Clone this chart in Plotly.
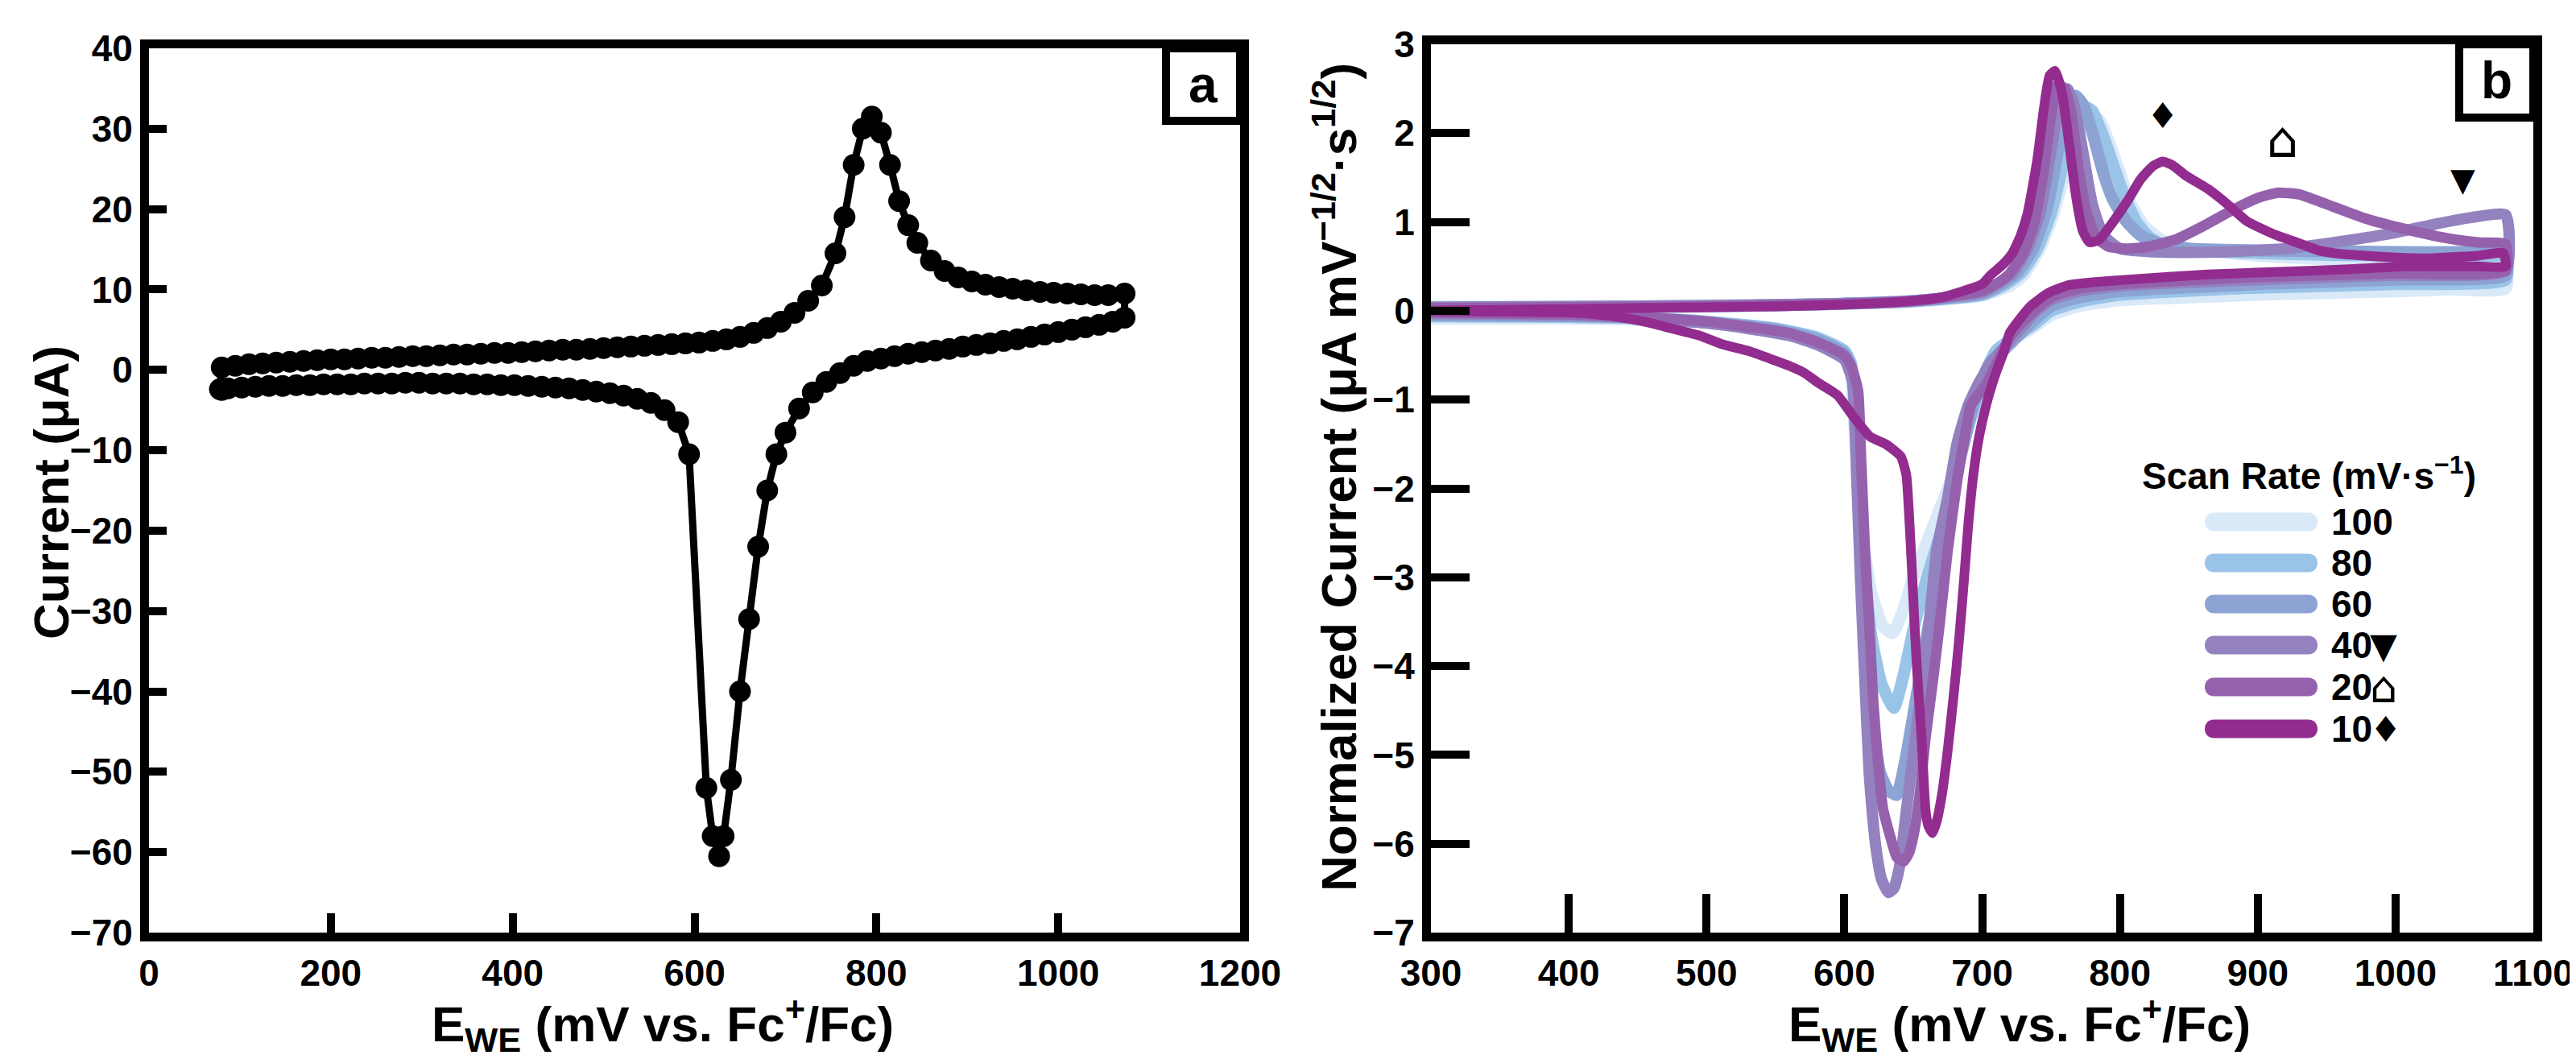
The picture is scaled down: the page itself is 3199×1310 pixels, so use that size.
import plotly.graph_objects as go

W, H = 3199, 1310

# ---------------- Panel a data (mV, uA) ----------------
E_a_fwd = [78, 80, 95, 110, 125, 140, 155, 170, 185, 200, 215, 230, 245, 260, 275, 290, 305, 320, 335, 350,
           365, 380, 395, 410, 425, 440, 455, 470, 485, 500, 515, 530, 545, 560, 575, 590, 605, 620, 635,
           650, 665, 680, 695, 710, 725, 740, 755, 765, 775, 785, 795, 805, 815, 825, 835, 845, 860, 875,
           890, 905, 920, 935, 950, 965, 980, 995, 1010, 1025, 1040, 1055, 1073]
I_a_fwd = [-2.4, 0.3, 0.5, 0.7, 0.8, 0.9, 1.0, 1.1, 1.2, 1.3, 1.3, 1.4, 1.5, 1.5, 1.6, 1.7, 1.7, 1.8, 1.9, 1.9,
           2.0, 2.1, 2.1, 2.2, 2.3, 2.4, 2.5, 2.5, 2.6, 2.7, 2.8, 2.9, 3.0, 3.1, 3.2, 3.3, 3.4, 3.6, 3.8,
           4.1, 4.6, 5.2, 6.0, 7.1, 8.6, 10.5, 14.5, 19.0, 25.5, 30.0, 31.5, 29.5, 25.5, 21.0, 18.0, 15.8, 13.6, 12.3,
           11.5, 11.0, 10.6, 10.3, 10.1, 9.9, 9.7, 9.6, 9.5, 9.4, 9.3, 9.3, 9.5]
E_a_rev = [1073, 1060, 1045, 1030, 1015, 1000, 985, 970, 955, 940, 925, 910, 895, 880, 865, 850, 835, 820,
           805, 790, 775, 760, 745, 730, 715, 700, 690, 680, 670, 660, 650, 640, 632, 627, 620, 613, 594,
           582, 567, 552, 537, 522, 507, 492, 477, 462, 447, 432, 417, 402, 387, 372, 357, 342, 327, 312,
           297, 282, 267, 252, 237, 222, 207, 192, 177, 162, 147, 132, 117, 102, 87, 80]
I_a_rev = [6.5, 6.0, 5.6, 5.3, 5.0, 4.7, 4.4, 4.1, 3.8, 3.6, 3.3, 3.1, 2.9, 2.6, 2.4, 2.2, 2.0, 1.7,
           1.4, 1.1, 0.5, -0.4, -1.5, -2.8, -4.8, -7.8, -10.5, -15.0, -22.0, -31.0, -40.0, -51.0, -58.0, -60.5, -58.0, -52.0, -10.5,
           -6.5, -5.0, -4.1, -3.6, -3.2, -2.9, -2.7, -2.5, -2.3, -2.2, -2.1, -2.0, -1.9, -1.9, -1.8, -1.8, -1.7, -1.7, -1.7,
           -1.6, -1.6, -1.7, -1.7, -1.7, -1.8, -1.8, -1.8, -1.9, -1.9, -2.0, -2.0, -2.1, -2.2, -2.3, -2.5]

# ---------------- Panel b data (mV, normalized current) ----------------
scan_rates = ["100", "80", "60", "40", "20", "10"]
legend_nums = ["100", "80", "60", "40", "20", "10"]
legend_syms = ["", "", "", "\u25BC", "\u2302", "\u2666"]
colors = ["#d9e9f8", "#9ac3e8", "#8ca3d4", "#9382bf", "#9561ad", "#932c8f"]

E_100 = [290, 350, 400, 450, 500, 550, 600, 650, 700, 720, 730, 742, 752, 761, 770, 778, 785, 792, 800, 808,
         818, 830, 850, 900, 950, 1000, 1040, 1080,
         1080, 1040, 1000, 950, 900, 850, 800, 770, 750, 738, 725, 712, 700, 690, 680, 670, 660, 650, 642,
         635, 628, 620, 613, 608, 604, 600, 580, 550, 500, 450, 400, 350, 290]
I_100 = [0.05, 0.05, 0.05, 0.05, 0.06, 0.06, 0.08, 0.10, 0.17, 0.28, 0.40, 0.70, 1.10, 1.60, 2.00, 2.20, 2.15, 1.90, 1.55, 1.20,
         0.95, 0.80, 0.70, 0.62, 0.58, 0.56, 0.55, 0.55,
         0.25, 0.24, 0.22, 0.20, 0.18, 0.15, 0.12, 0.05, -0.05, -0.18, -0.30, -0.45, -0.85, -1.30, -1.80, -2.20, -2.60, -3.00, -3.40,
         -3.63, -3.55, -3.20, -2.50, -1.50, -0.60, -0.45, -0.30, -0.20, -0.13, -0.10, -0.09, -0.09, -0.09]

E_80 = [290, 400, 500, 600, 650, 700, 715, 728, 740, 750, 758, 766, 774, 780, 787, 795, 803, 812, 822, 835,
        860, 900, 950, 1000, 1040, 1080,
        1080, 1000, 900, 800, 770, 750, 738, 725, 710, 700, 690, 680, 670, 660, 650, 643, 636, 627, 620,
        615, 610, 605, 600, 580, 550, 500, 450, 400, 290]
I_80 = [0.04, 0.04, 0.05, 0.08, 0.11, 0.18, 0.28, 0.42, 0.70, 1.10, 1.60, 2.10, 2.30, 2.25, 2.00, 1.65, 1.30, 1.00, 0.82, 0.72,
        0.68, 0.65, 0.63, 0.62, 0.61, 0.60,
        0.35, 0.30, 0.26, 0.18, 0.10, 0.00, -0.15, -0.28, -0.45, -0.80, -1.30, -1.90, -2.50, -3.00, -3.60, -4.10, -4.47, -4.20, -3.70,
        -3.00, -2.00, -0.60, -0.45, -0.30, -0.20, -0.12, -0.08, -0.07, -0.06]

E_60 = [290, 400, 500, 600, 650, 700, 712, 725, 737, 747, 755, 762, 768, 774, 781, 788, 795, 805, 815, 830,
        850, 900, 950, 1000, 1050, 1080,
        1080, 1000, 900, 800, 770, 750, 738, 725, 712, 705, 695, 685, 675, 665, 655, 645, 638, 632, 626,
        620, 615, 610, 606, 600, 580, 550, 500, 450, 400, 290]
I_60 = [0.03, 0.04, 0.05, 0.08, 0.11, 0.19, 0.28, 0.42, 0.70, 1.15, 1.80, 2.30, 2.42, 2.30, 1.95, 1.55, 1.25, 1.00, 0.85, 0.75,
        0.70, 0.68, 0.67, 0.66, 0.66, 0.66,
        0.40, 0.35, 0.30, 0.22, 0.15, 0.05, -0.10, -0.30, -0.50, -0.60, -1.00, -1.60, -2.40, -3.20, -4.10, -5.00, -5.45, -5.40, -5.20,
        -4.60, -3.60, -2.00, -0.70, -0.48, -0.32, -0.21, -0.13, -0.08, -0.06, -0.05]

E_40 = [290, 400, 500, 600, 650, 700, 711, 722, 733, 742, 750, 757, 762, 767, 773, 780, 788, 800, 830, 870,
        920, 960, 1000, 1030, 1055, 1080,
        1080, 1000, 900, 800, 770, 750, 738, 728, 718, 708, 698, 690, 682, 675, 667, 661, 655, 650, 645,
        640, 636, 632, 627, 623, 620, 618, 615, 612, 609, 606, 600, 580, 560, 530, 500, 450, 400, 290]
I_40 = [0.04, 0.05, 0.06, 0.08, 0.11, 0.21, 0.30, 0.42, 0.70, 1.10, 1.80, 2.40, 2.50, 2.30, 1.80, 1.20, 0.85, 0.70, 0.66, 0.66,
        0.70, 0.78, 0.88, 0.98, 1.05, 1.08,
        0.45, 0.40, 0.35, 0.28, 0.22, 0.12, -0.02, -0.20, -0.38, -0.55, -0.80, -1.06, -1.48, -2.10, -2.70, -3.60, -4.38, -5.00, -5.63,
        -6.26, -6.50, -6.55, -6.40, -6.05, -5.60, -5.20, -4.20, -3.13, -1.90, -0.80, -0.55, -0.38, -0.28, -0.20, -0.14, -0.08, -0.05, -0.03]

E_20 = [290, 400, 500, 600, 650, 700, 712, 720, 730, 738, 745, 750, 755, 760, 765, 770, 776, 783, 792, 805,
        820, 840, 860, 880, 900, 915, 930, 950, 978, 1007, 1036, 1060, 1080,
        1080, 1000, 900, 800, 770, 750, 738, 728, 720, 712, 702, 692, 687, 682, 675, 669, 664, 659, 655,
        651, 647, 643, 638, 633, 628, 624, 621, 618, 615, 612, 610, 605, 600, 580, 560, 530, 500, 450, 400, 290]
I_20 = [0.03, 0.04, 0.05, 0.08, 0.11, 0.22, 0.32, 0.42, 0.65, 1.00, 1.60, 2.20, 2.55, 2.50, 2.20, 1.60, 1.10, 0.82, 0.72, 0.70,
        0.72, 0.80, 0.95, 1.12, 1.27, 1.33, 1.31, 1.20, 1.04, 0.92, 0.82, 0.77, 0.75,
        0.45, 0.42, 0.38, 0.30, 0.25, 0.15, 0.00, -0.15, -0.30, -0.55, -0.85, -1.06, -1.45, -1.90, -2.70, -3.55, -4.20, -4.80, -5.40,
        -5.84, -6.10, -6.20, -6.15, -5.90, -5.60, -5.00, -4.40, -3.50, -2.70, -1.60, -0.90, -0.62, -0.50, -0.35, -0.25, -0.18, -0.12,
        -0.07, -0.04, -0.02]

E_10 = [290, 350, 400, 450, 500, 550, 600, 640, 670, 700, 706, 715, 722, 728, 733, 740, 745, 749, 753, 758,
        763, 768, 773, 778, 785, 795, 806, 815, 824, 831, 838, 848, 864, 878, 892, 912, 930, 944, 960, 978,
        1000, 1020, 1036, 1060, 1078,
        1080, 1060, 1030, 1007, 970, 921, 864, 806, 780, 763, 748, 735, 727, 720, 716, 710, 704, 698, 694,
        690, 687, 683, 679, 675, 671, 667, 664, 661, 659, 656, 653, 651, 649, 647, 645, 641, 630, 619, 607,
        595, 581, 571, 560, 548, 530, 512, 495, 480, 460, 440, 420, 400, 350, 290]
I_10 = [0.00, 0.01, 0.02, 0.03, 0.04, 0.05, 0.07, 0.10, 0.15, 0.30, 0.40, 0.52, 0.65, 0.85, 1.10, 1.70, 2.30, 2.65, 2.70, 2.45,
        1.90, 1.30, 0.90, 0.77, 0.80, 1.00, 1.25, 1.48, 1.63, 1.68, 1.64, 1.52, 1.37, 1.20, 1.01, 0.86, 0.76, 0.68, 0.64, 0.62,
        0.60, 0.59, 0.60, 0.62, 0.65,
        0.50, 0.50, 0.50, 0.50, 0.47, 0.44, 0.41, 0.35, 0.32, 0.29, 0.20, 0.05, -0.10, -0.25, -0.45, -0.70, -1.00, -1.40, -1.80,
        -2.40, -3.00, -3.75, -4.38, -4.95, -5.43, -5.75, -5.88, -5.80, -5.63, -4.80, -4.10, -3.55, -2.90, -2.30, -1.85, -1.64, -1.50,
        -1.42, -1.20, -0.95, -0.81, -0.70, -0.62, -0.55, -0.45, -0.38, -0.28, -0.22, -0.14, -0.08, -0.04, -0.02, -0.01, 0.00]

E_b = [E_100, E_80, E_60, E_40, E_20, E_10]
I_b = [I_100, I_80, I_60, I_40, I_20, I_10]
line_w = [15, 15, 15, 14, 13, 12]

# peak markers (E, I, symbol)
peak_E = [831, 918, 1049]
peak_I = [1.95, 1.58, 1.25]
peak_sym = ["\u2666", "\u2302", "\u25BC"]
peak_size = [44, 62, 40]

xa_ticks = [0, 200, 400, 600, 800, 1000, 1200]
ya_ticks = [-70, -60, -50, -40, -30, -20, -10, 0, 10, 20, 30, 40]
xb_ticks = [300, 400, 500, 600, 700, 800, 900, 1000, 1100]
yb_ticks = [-7, -6, -5, -4, -3, -2, -1, 0, 1, 2, 3]


def px(x):
    return x / W


def py(y):
    return 1 - y / H


FONT = "Liberation Sans, Arial, Helvetica, sans-serif"

fig = go.Figure()

# panel a
fig.add_trace(go.Scatter(
    x=E_a_fwd + E_a_rev, y=I_a_fwd + I_a_rev, mode="lines+markers",
    line=dict(color="black", width=9), marker=dict(color="black", size=27, symbol="circle"),
    xaxis="x", yaxis="y", showlegend=False, hoverinfo="skip"))

# panel b
for e, i, c, w in zip(E_b, I_b, colors, line_w):
    fig.add_trace(go.Scatter(
        x=e, y=i, mode="lines", line=dict(color=c, width=w, shape="spline", smoothing=0.5),
        xaxis="x2", yaxis="y2", showlegend=False, hoverinfo="skip"))

axis_common = dict(showline=True, linewidth=11, linecolor="black", mirror=True, ticks="inside",
                   tickwidth=10, tickcolor="black", showgrid=False, zeroline=False, automargin=False,
                   tickfont=dict(family=FONT, size=46, color="black", weight="bold"))

fig.update_layout(
    template="none",
    width=W, height=H, autosize=False, margin=dict(l=0, r=0, t=0, b=0, pad=0),
    paper_bgcolor="white", plot_bgcolor="white",
    font=dict(family=FONT, color="black"),
    xaxis=dict(domain=[px(177), px(1532)], range=[0, 1200], tickvals=xa_ticks, ticklen=24,
               anchor="y", **axis_common),
    yaxis=dict(domain=[py(1150), py(52)], range=[-70, 40], tickvals=ya_ticks, ticklen=22,
               anchor="x", **axis_common),
    xaxis2=dict(domain=[px(1769), px(3138)], range=[300, 1100], tickvals=xb_ticks, ticklen=48,
                anchor="y2", **axis_common),
    yaxis2=dict(domain=[py(1150), py(47)], range=[-7, 3], tickvals=yb_ticks, ticklen=48,
                anchor="x2", **axis_common),
)

title_font = dict(family=FONT, size=62, color="black", weight="bold")
ann = []
ann.append(dict(text="E<sub>WE</sub> (mV vs. Fc<sup>+</sup>/Fc)", x=px(815), y=py(1263), xref="paper", yref="paper",
                showarrow=False, xanchor="center", yanchor="middle", font=title_font))
ann.append(dict(text="Current (\u03bcA)", x=px(55), y=py(604), xref="paper", yref="paper", textangle=-90,
                showarrow=False, xanchor="center", yanchor="middle", font=title_font))
ann.append(dict(text="E<sub>WE</sub> (mV vs. Fc<sup>+</sup>/Fc)", x=px(2500), y=py(1263), xref="paper", yref="paper",
                showarrow=False, xanchor="center", yanchor="middle", font=title_font))
ann.append(dict(text="Normalized Current (\u03bcA mV<sup>\u22121/2</sup>\u00b7s<sup>1/2</sup>)", x=px(1650), y=py(585),
                xref="paper", yref="paper", textangle=-90,
                showarrow=False, xanchor="center", yanchor="middle", font=title_font))

# panel letters with boxes
shapes = []
for (x0, x1, y0, y1, letter) in [(1440, 1532, 52, 142, "a"), (3046, 3138, 47, 138, "b")]:
    shapes.append(dict(type="rect", xref="paper", yref="paper", x0=px(x0), x1=px(x1), y0=py(y1), y1=py(y0),
                       line=dict(color="black", width=10), fillcolor="white"))
    ann.append(dict(text=letter, x=px((x0 + x1) / 2), y=py((y0 + y1) / 2), xref="paper", yref="paper",
                    showarrow=False, xanchor="center", yanchor="middle",
                    font=dict(family=FONT, size=64, color="black", weight="bold")))

# peak markers
for e, i, s, sz in zip(peak_E, peak_I, peak_sym, peak_size):
    ann.append(dict(text=s, x=e, y=i, xref="x2", yref="y2", showarrow=False, xanchor="center", yanchor="bottom",
                    font=dict(family="DejaVu Sans", size=sz, color="black")))

# manual legend
ann.append(dict(text="Scan Rate (mV\u00b7s<sup>\u22121</sup>)", x=px(2650), y=py(580), xref="paper", yref="paper",
                showarrow=False, xanchor="left", yanchor="middle",
                font=dict(family=FONT, size=46, color="black", weight="bold")))
row_y = [640, 691, 742, 793, 845, 897]
r = 11.5
k = 4.0 / 3.0
for yc, c, num, sym in zip(row_y, colors, legend_nums, legend_syms):
    x0, x1 = 2730, 2870
    path = (f"M{px(x0 + r)},{py(yc - r)} L{px(x1 - r)},{py(yc - r)} "
            f"C{px(x1 - r + k * r)},{py(yc - r)} {px(x1 - r + k * r)},{py(yc + r)} {px(x1 - r)},{py(yc + r)} "
            f"L{px(x0 + r)},{py(yc + r)} "
            f"C{px(x0 + r - k * r)},{py(yc + r)} {px(x0 + r - k * r)},{py(yc - r)} {px(x0 + r)},{py(yc - r)} Z")
    shapes.append(dict(type="path", xref="paper", yref="paper", path=path, fillcolor=c, line=dict(width=0)))
    ann.append(dict(text=num, x=px(2885), y=py(yc), xref="paper", yref="paper", showarrow=False,
                    xanchor="left", yanchor="middle",
                    font=dict(family=FONT, size=46, color="black", weight="bold")))
    if sym:
        sx = 2885 + 26 * len(num) - 4
        ann.append(dict(text=sym, x=px(sx), y=py(yc), xref="paper", yref="paper", showarrow=False,
                        xanchor="left", yanchor="middle",
                        font=dict(family="DejaVu Sans", size=54 if sym == "\u2302" else 44, color="black")))

fig.update_layout(annotations=ann, shapes=shapes)
fig.write_html("out.html")
